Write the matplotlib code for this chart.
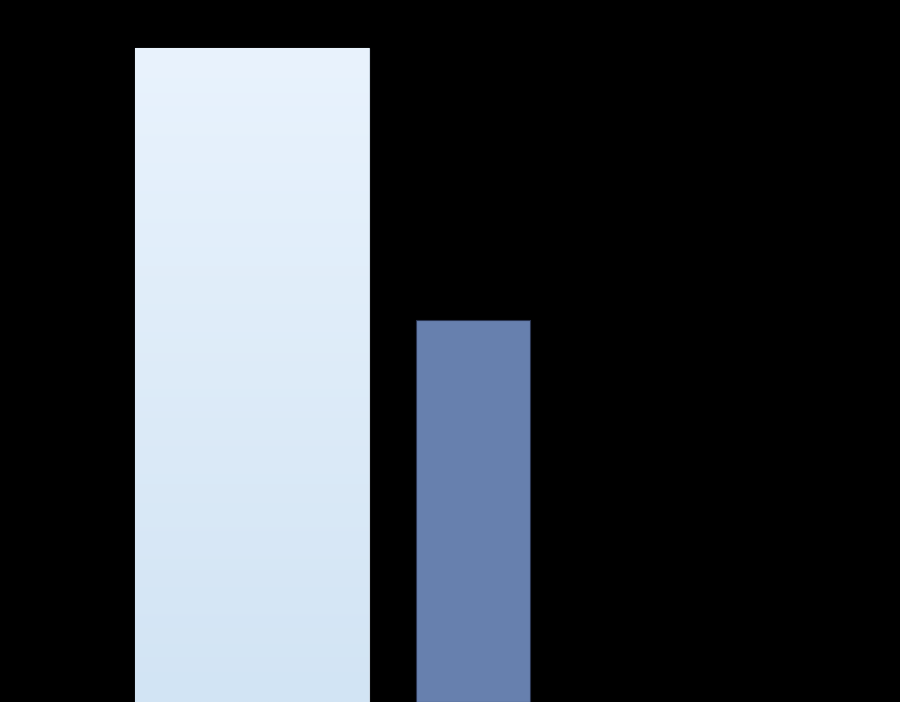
import numpy as np
import matplotlib
matplotlib.use("Agg")
import matplotlib.pyplot as plt
from matplotlib.colors import LinearSegmentedColormap

categories = ["A", "B"]
values = [100.0, 58.4]

fig = plt.figure(figsize=(9, 7.02), dpi=100)
fig.patch.set_facecolor("black")
ax = fig.add_axes([0, 0, 1, 1])
ax.set_facecolor("black")

lefts = [134.5, 415.5]
widths = [234, 114]
colors = ["#ddeaf8", "#6780ae"]
bars = ax.bar(lefts, values, width=widths, align="edge", color=colors,
              edgecolor=["#c8d4e0", "#2a3550"], linewidth=0.8)

ax.set_xlim(0, 900)
ax.set_ylim(0, 107.34)

# gradient fill for first bar
cmap = LinearSegmentedColormap.from_list("g", ["#d2e4f4", "#e9f3fd"])
grad = np.linspace(0, 1, 256).reshape(-1, 1)
b = bars[0]
im = ax.imshow(grad, extent=[b.get_x(), b.get_x() + b.get_width(), 0, b.get_height()],
               origin="lower", aspect="auto", cmap=cmap, zorder=b.get_zorder() + 0.1)
im.set_clip_path(b)

ax.axis("off")
fig.savefig("out.png", dpi=100, facecolor="black")
